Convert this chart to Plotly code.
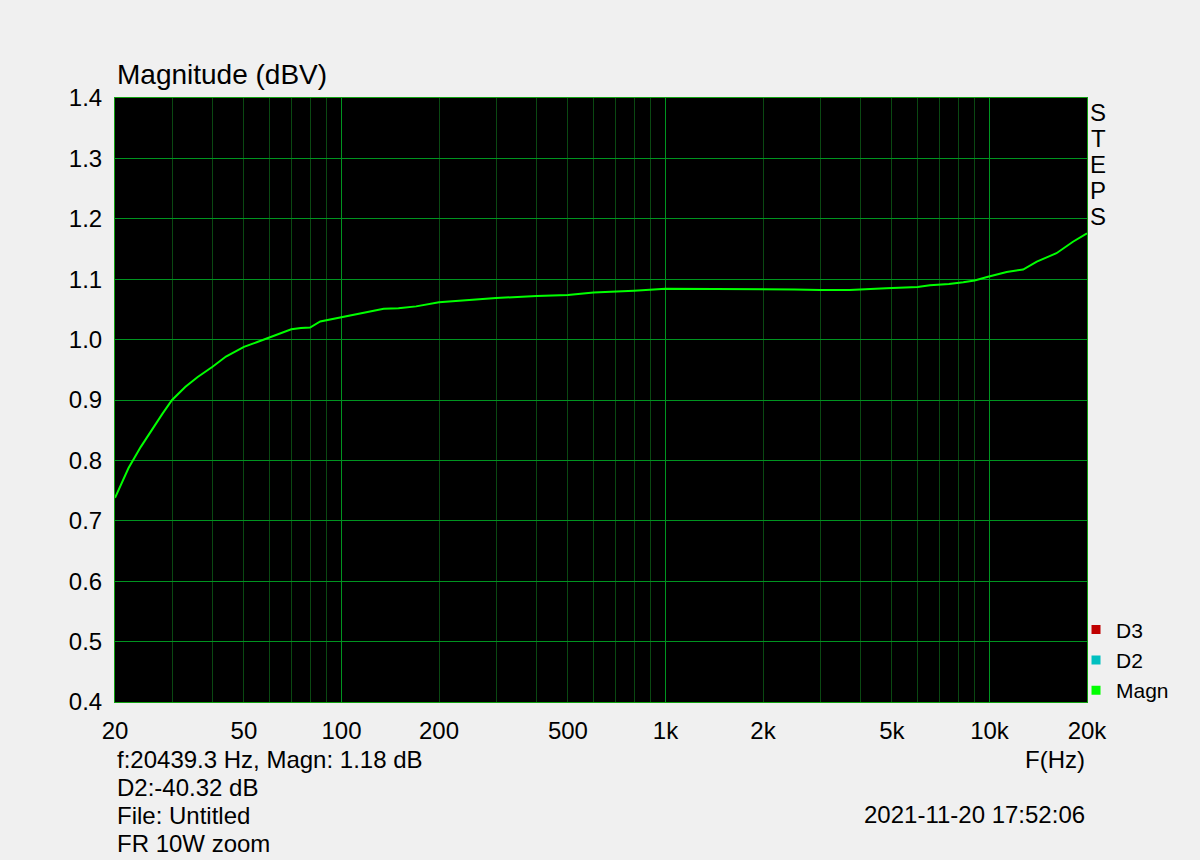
import math
import plotly.graph_objects as go

# ---- data ----
freq_hz = [20, 22, 24, 26, 28, 30, 33, 36, 40, 44, 50, 55, 60, 65, 70, 75, 80, 86, 92,
           100, 110, 120, 135, 150, 170, 200, 250, 300, 400, 500, 600, 700, 800,
           1000, 1500, 2000, 2500, 3000, 3700, 4800, 6000, 6550, 7500, 8300, 9000,
           9900, 11300, 12700, 14000, 16100, 18100, 20000]
magn_dbv = [0.738, 0.787, 0.822, 0.851, 0.877, 0.900, 0.922, 0.938, 0.955, 0.972, 0.988,
            0.996, 1.004, 1.011, 1.017, 1.019, 1.020, 1.030, 1.033,
            1.037, 1.041, 1.046, 1.051, 1.052, 1.055, 1.062, 1.066, 1.069, 1.072, 1.074,
            1.078, 1.079, 1.081,
            1.084, 1.084, 1.084, 1.083, 1.082, 1.082, 1.085, 1.087, 1.090, 1.092, 1.095,
            1.098, 1.104, 1.112, 1.116, 1.129, 1.143, 1.162, 1.176]

x_tick_vals = [20, 50, 100, 200, 500, 1000, 2000, 5000, 10000, 20000]
x_tick_text = ["20", "50", "100", "200", "500", "1k", "2k", "5k", "10k", "20k"]
decade_vals = [100, 1000, 10000]
minor_vals = [30, 40, 50, 60, 70, 80, 90,
              200, 300, 400, 500, 600, 700, 800, 900,
              2000, 3000, 4000, 5000, 6000, 7000, 8000, 9000]
y_tick_vals = [0.4, 0.5, 0.6, 0.7, 0.8, 0.9, 1.0, 1.1, 1.2, 1.3, 1.4]

legend_names = ["D3", "D2", "Magn"]
legend_colors = ["#c00000", "#00c0c0", "#00ff00"]

FONT = "Liberation Sans, Arial, sans-serif"
MAJOR_GRID = "#009420"
MINOR_GRID = "#0a4812"
xr = [math.log10(20), math.log10(20000)]

fig = go.Figure()

fig.add_trace(go.Scatter(x=freq_hz, y=magn_dbv, mode="lines",
                         line=dict(color="#00ff00", width=2),
                         showlegend=False, hoverinfo="skip"))

for n, c in zip(legend_names, legend_colors):
    fig.add_trace(go.Scatter(x=[None], y=[None], mode="markers", name=n,
                             xaxis="x2",
                             marker=dict(symbol="square", size=9, color=c)))

fig.update_layout(
    template="none",
    width=1200, height=860,
    paper_bgcolor="#f0f0f0", plot_bgcolor="#000000",
    margin=dict(l=115, r=113, t=98, b=158),
    font=dict(family=FONT, size=24, color="#000000"),
    xaxis=dict(type="log", range=xr, tickvals=decade_vals, showticklabels=False,
               showgrid=True, gridcolor=MAJOR_GRID, gridwidth=1, ticks="",
               minor=dict(tickvals=minor_vals, showgrid=True, gridcolor=MINOR_GRID,
                          gridwidth=1, ticks=""),
               showline=True, linecolor="#10a010", linewidth=1, mirror=True,
               zeroline=False, fixedrange=True),
    xaxis2=dict(type="log", range=xr, overlaying="x", anchor="y", side="bottom",
                tickvals=x_tick_vals, ticktext=x_tick_text, showgrid=False,
                showline=False, ticks="", ticklabelstandoff=12, zeroline=False,
                tickfont=dict(family=FONT, size=24, color="#000000")),
    yaxis=dict(range=[0.4, 1.4], tickvals=y_tick_vals, tickformat=".1f",
               showgrid=True, gridcolor=MAJOR_GRID, gridwidth=1, ticks="",
               ticklabelstandoff=7,
               showline=True, linecolor="#10a010", linewidth=1, mirror=True,
               zeroline=False, tickfont=dict(family=FONT, size=24, color="#000000")),
    legend=dict(x=0.9887, xanchor="left", y=-0.014, yanchor="bottom",
                bgcolor="rgba(0,0,0,0)", borderwidth=0,
                font=dict(family=FONT, size=21, color="#000000"),
                traceorder="normal", itemclick=False),
    showlegend=True,
)

H = 604.0
def py(p):
    return (702 - p) / H

annos = [
    dict(text="Magnitude (dBV)", x=0, y=py(75), xanchor="left", yanchor="middle",
         font=dict(size=28)),
    dict(text="f:20439.3 Hz, Magn: 1.18 dB", x=0, y=py(759), xanchor="left", yanchor="middle"),
    dict(text="D2:-40.32 dB", x=0, y=py(787), xanchor="left", yanchor="middle"),
    dict(text="File: Untitled", x=0, y=py(815), xanchor="left", yanchor="middle"),
    dict(text="FR 10W zoom", x=0, y=py(843), xanchor="left", yanchor="middle"),
    dict(text="F(Hz)", x=1.0, y=py(759), xanchor="right", yanchor="middle"),
    dict(text="2021-11-20 17:52:06", x=1.0, y=py(814), xanchor="right", yanchor="middle"),
]
for letter, ypx in zip(["S", "T", "E", "P", "S"], [112, 138, 164, 190, 216]):
    annos.append(dict(text=letter, x=(1098 - 115) / 972.0, y=py(ypx),
                      xanchor="center", yanchor="middle"))

for a in annos:
    size = a.pop("font", {}).get("size", 24)
    fig.add_annotation(xref="paper", yref="paper", showarrow=False,
                       font=dict(family=FONT, size=size, color="#000000"), **a)

fig.write_html(
    "out.html",
    config={"displayModeBar": False},
    post_script="document.body.style.margin='0';document.body.style.background='#f0f0f0';",
)
